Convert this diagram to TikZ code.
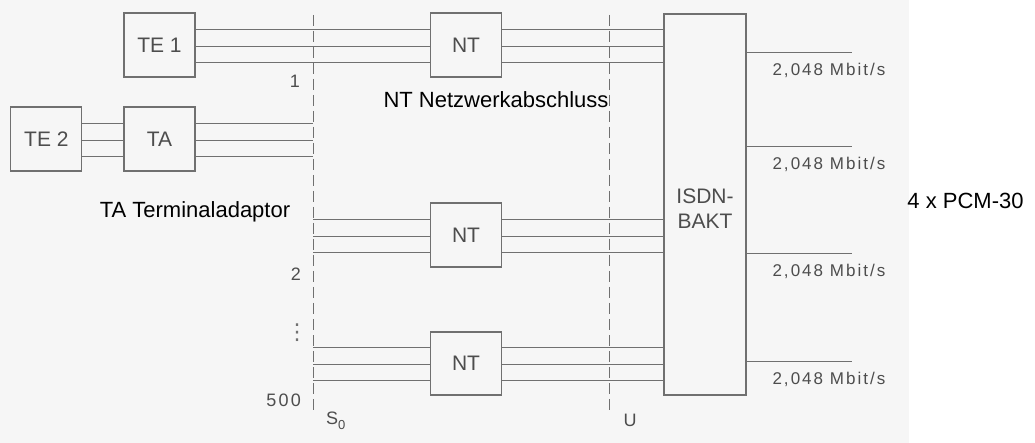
\documentclass[tikz,border=0pt]{standalone}
\usepackage{fontspec}
\setmainfont{Liberation Sans}
\newfontfamily\ratefont[LetterSpace=12]{Liberation Sans}
\newfontfamily\symfont{DejaVu Sans}
\usepackage{tikz}
\usetikzlibrary{positioning}
\definecolor{wiregray}{HTML}{707070}
\definecolor{labelgray}{HTML}{4D4D4D}
\definecolor{scangray}{HTML}{F6F6F6}

\begin{document}
\begin{tikzpicture}[
	x=1pt, y=-1pt,
	unitbox/.style={draw=wiregray, line width=1.1pt, minimum width=71pt, minimum height=64pt, inner sep=0pt, text=labelgray, font=\fontsize{21}{25}\selectfont},
	wire/.style={draw=wiregray, line width=0.9pt},
	iface/.style={draw=wiregray, line width=0.9pt, dash pattern=on 11pt off 5pt},
	blacklbl/.style={font=\fontsize{22}{26}\selectfont, text=black, inner sep=0pt},
	rate/.style={font=\ratefont\fontsize{17}{20}\selectfont, text=labelgray, inner sep=0pt},
	numlbl/.style={font=\ratefont\fontsize{18}{21}\selectfont, text=labelgray, inner sep=0pt}
]
	\fill[scangray] (0,0) rectangle (909,443);
	\useasboundingbox (0,0) rectangle (1035,443);

	\node[unitbox] (ta) at (159.5,139) {TA};
	\node[unitbox, left=41pt of ta] (te2) {TE 2};
	\node[unitbox] (te1) at (159.5,45) {TE 1};
	\node[unitbox] (nt1) at (466,45) {NT};
	\node[unitbox] (nt2) at (466,235) {NT};
	\node[unitbox, minimum height=63pt] (nt3) at (466,363.5) {NT};
	\node[unitbox, minimum width=82pt, minimum height=381pt, align=center] (isdn) at (705,204.5) {\\[-2pt]ISDN-\\BAKT};

	% S0 and U reference points
	\coordinate (s0top) at (313,15);
	\coordinate (s0bot) at (313,413);
	\coordinate (utop) at (609,15);
	\coordinate (ubot) at (609,413);
	\draw[iface] (s0top) -- (s0bot);
	\draw[iface] (utop) -- (ubot);

	\foreach \dy in {16pt,-1pt,-17pt} {
		\draw[wire] ([yshift=\dy]te2.east) -- ([yshift=\dy]ta.west);
		\draw[wire] ([yshift=\dy]ta.east) -- ([yshift=\dy]ta.east -| s0top);
		\draw[wire] ([yshift=\dy]te1.east) -- ([yshift=\dy]nt1.west);
		\draw[wire] ([yshift=\dy]nt2.west -| s0top) -- ([yshift=\dy]nt2.west);
		\draw[wire] ([yshift=\dy]nt3.west -| s0top) -- ([yshift=\dy]nt3.west);
		\foreach \n in {nt1,nt2,nt3}
			\draw[wire] ([yshift=\dy]\n.east) -- ([yshift=\dy]\n.east -| isdn.west);
	}

	\foreach \y [count=\i] in {52,146,253,361} {
		\coordinate (out\i) at (852,\y);
		\draw[wire] (isdn.east |- out\i) -- (out\i);
		\node[rate] (rate\i) at (829,\y+18) {2,048 Mbit/s};
	}

	\node[numlbl, anchor=east] (no1) at (300,81) {1};
	\node[numlbl, anchor=east] (no2) at (301,274) {2};
	\node[numlbl, font=\symfont\fontsize{22}{22}\selectfont, text=labelgray!80] (dots) at (297,333) {⋮};
	\node[numlbl, anchor=east] (no500) at (301,400) {500};
	\node[numlbl, anchor=west] (s0lbl) at (326,421) {S\raisebox{-5pt}{\fontsize{13}{13}\selectfont 0}};
	\node[numlbl] (ulbl) at (630,420) {U};

	\node[blacklbl] (ntnote) at (496,100) {NT Netzwerkabschluss};
	\node[blacklbl] (tanote) at (195,212) {TA Terminaladaptor};
	\node[blacklbl] (pcm) at (965.5,201) {4 x PCM-30};
\end{tikzpicture}
\end{document}
